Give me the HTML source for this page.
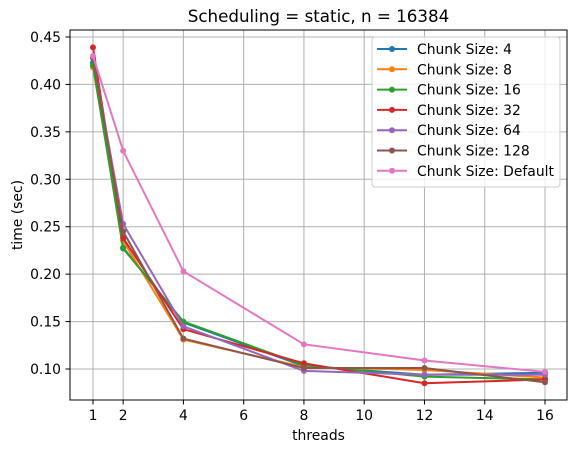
<!DOCTYPE html>
<html><head><meta charset="utf-8"><style>
body{margin:0;background:#fff;}
svg text{font-family:"DejaVu Sans","Liberation Sans",sans-serif;fill:#000;}
</style></head><body>
<svg id="chart" width="576" height="453"></svg>
<script>
const xValues=[1,2,4,8,12,16];
const seriesNames=["Chunk Size: 4","Chunk Size: 8","Chunk Size: 16","Chunk Size: 32","Chunk Size: 64","Chunk Size: 128","Chunk Size: Default"];
const s4=[0.423,0.228,0.149,0.103,0.094,0.096];
const s8=[0.418,0.235,0.131,0.102,0.099,0.091];
const s16=[0.420,0.227,0.150,0.104,0.092,0.089];
const s32=[0.439,0.238,0.142,0.106,0.085,0.089];
const s64=[0.428,0.253,0.145,0.098,0.094,0.094];
const s128=[0.428,0.245,0.132,0.101,0.101,0.086];
const sDef=[0.430,0.330,0.203,0.126,0.109,0.097];
const xTicks=[1,2,4,6,8,10,12,14,16];
const yTicks=[0.10,0.15,0.20,0.25,0.30,0.35,0.40,0.45];
const colors=["#1f77b4","#ff7f0e","#2ca02c","#d62728","#9467bd","#8c564b","#e377c2"];
const allSeries=[s4,s8,s16,s32,s64,s128,sDef];
const L=70,R=567,T=30,B=400;
const xs=v=>93+(v-1)*(545-93)/15;
const ys=v=>369-(v-0.10)*(369-37)/0.35;
const svg=document.getElementById('chart');
const NS="http://www.w3.org/2000/svg";
function mk(tag,attrs,parent){const e=document.createElementNS(NS,tag);for(const k in attrs)e.setAttribute(k,attrs[k]);(parent||svg).appendChild(e);return e;}
const grid=mk('g',{});


xTicks.forEach(t=>{
 mk('line',{x1:xs(t),x2:xs(t),y1:T,y2:B,stroke:'#b0b0b0','stroke-width':1},grid);
 mk('line',{x1:xs(t),x2:xs(t),y1:B,y2:B+4.5,stroke:'#000','stroke-width':1});
 const tx=mk('text',{x:xs(t),y:B+20,'text-anchor':'middle','font-size':13.9});
 tx.textContent=t;
 
 
});
yTicks.forEach(t=>{
 mk('line',{x1:L,x2:R,y1:ys(t),y2:ys(t),stroke:'#b0b0b0','stroke-width':1},grid);
 mk('line',{x1:L-4.5,x2:L,y1:ys(t),y2:ys(t),stroke:'#000','stroke-width':1});
 const ty=mk('text',{x:L-9,y:ys(t)+5,'text-anchor':'end','font-size':13.9});
 ty.textContent=t.toFixed(2);
 
 
});
allSeries.forEach((s,i)=>{
 const g=mk('g',{});
 
 
 mk('polyline',{points:s.map((v,j)=>xs(xValues[j])+','+ys(v)).join(' '),fill:'none',stroke:colors[i],'stroke-width':2},g);
 s.forEach((v,j)=>{const c=mk('circle',{cx:xs(xValues[j]),cy:ys(v),r:3,fill:colors[i]},g);
  
  });
});
mk('rect',{x:L,y:T,width:R-L,height:B-T,fill:'none',stroke:'#000','stroke-width':1});
const title=mk('text',{x:(L+R)/2,y:22,'text-anchor':'middle','font-size':16.7});
title.textContent='Scheduling = static, n = 16384';


const xl=mk('text',{x:(L+R)/2,y:440,'text-anchor':'middle','font-size':13.9});
xl.textContent='threads';


const yl=mk('text',{x:0,y:0,'text-anchor':'middle','font-size':13.9,transform:'translate(22,'+(T+B)/2+') rotate(-90)'});
yl.textContent='time (sec)';


const lg=mk('g',{});


mk('rect',{x:372,y:37,width:188,height:150,rx:3,fill:'#fff','fill-opacity':0.8,stroke:'#ccc'},lg);
seriesNames.forEach((n,i)=>{
 const y=49+i*20.3;
 const e=mk('g',{},lg);
 
 
 mk('line',{x1:377,x2:407,y1:y,y2:y,stroke:colors[i],'stroke-width':2},e);
 mk('circle',{cx:392,cy:y,r:3,fill:colors[i]},e);
 const t=mk('text',{x:417,y:y+5,'font-size':13.9},e);t.textContent=n;
});
</script>
</body></html>
